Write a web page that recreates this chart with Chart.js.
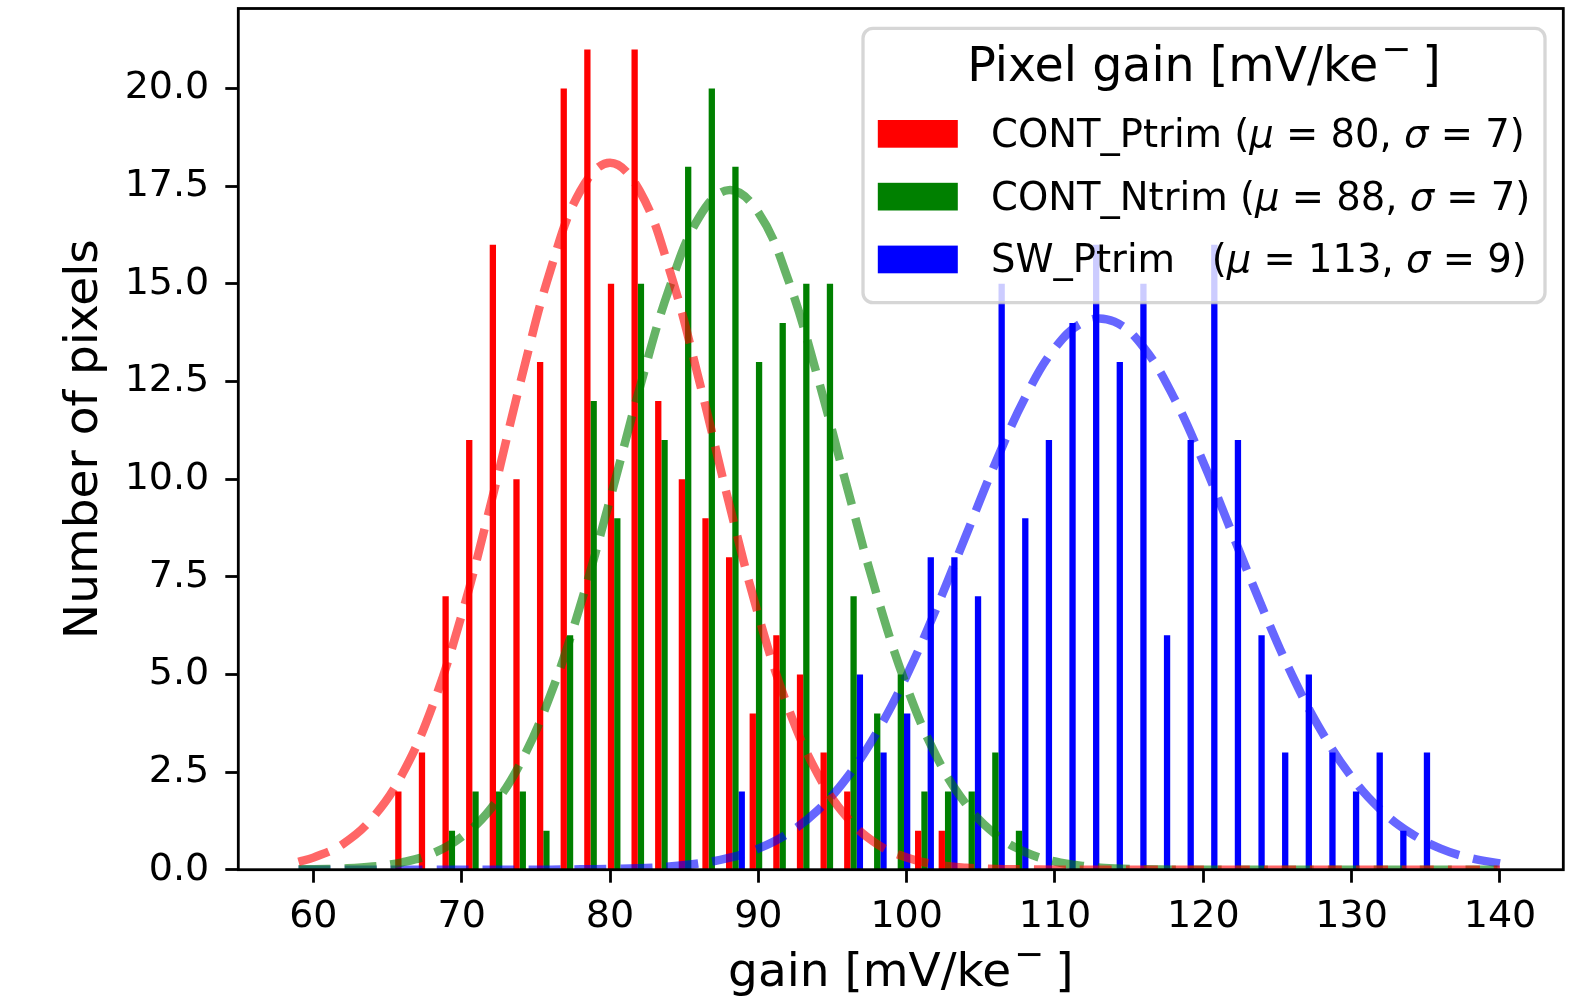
<!DOCTYPE html>
<html>
<head>
<meta charset="utf-8">
<title>Pixel gain distribution</title>
<script src="https://cdn.jsdelivr.net/npm/chart.js@4.4.0/dist/chart.umd.min.js"></script>
<style>
  html, body { margin: 0; padding: 0; background: #fff; }
  #wrap { width: 1588px; height: 1002px; }
</style>
</head>
<body>
<div id="wrap"><canvas id="gainHist" width="1588" height="1002"></canvas></div>
<script>
// histogram bins (bin centres, mV/ke-)
const binCenters = [
  66.155, 67.748, 69.341, 70.934, 72.527, 74.120, 75.713, 77.306, 78.899, 80.492,
  82.085, 83.678, 85.271, 86.864, 88.457, 90.050, 91.643, 93.236, 94.829, 96.422,
  98.015, 99.608, 101.201, 102.794, 104.387, 105.980, 107.573, 109.166, 110.759, 112.352,
  113.945, 115.538, 117.131, 118.724, 120.317, 121.910, 123.503, 125.096, 126.689, 128.282,
  129.875, 131.468, 133.061, 134.654
];

// pixel counts per bin
const contPtrimCounts = [
  2, 3, 7, 11, 16, 10, 13, 20, 21, 15, 21, 12, 10, 9, 8, 4, 6, 5, 3, 2,
  0, 0, 1, 1, 0, 0, 0, 0, 0, 0, 0, 0, 0, 0, 0, 0, 0, 0, 0, 0, 0, 0, 0, 0
];
const contNtrimCounts = [
  0, 0, 1, 2, 2, 2, 1, 6, 12, 9, 15, 11, 18, 20, 18, 13, 14, 15, 15, 7,
  4, 5, 2, 2, 2, 3, 1, 0, 0, 0, 0, 0, 0, 0, 0, 0, 0, 0, 0, 0, 0, 0, 0, 0
];
const swPtrimCounts = [
  0, 0, 0, 0, 0, 0, 0, 0, 0, 0, 0, 0, 0, 0, 2, 0, 0, 0, 0, 5,
  3, 4, 8, 8, 7, 15, 9, 11, 14, 16, 13, 15, 6, 11, 16, 11, 6, 3, 5, 3,
  2, 3, 1, 3
];

// gaussian fit curves, sampled along the gain axis
const fitGain = [
  59, 60, 62, 64, 66, 68, 70, 72, 74, 76, 78, 80, 82, 84, 86, 88, 90, 92, 94, 96, 98,
  100, 102, 104, 106, 108, 110, 112, 114, 116, 118, 120, 122, 124, 126, 128, 130, 132, 134, 136, 138, 140
];
const contPtrimFit = [
  0.20, 0.31, 0.66, 1.33, 2.45, 4.16, 6.52, 9.42, 12.54, 15.37, 17.38, 18.10, 17.38, 15.37, 12.54, 9.42, 6.52, 4.16, 2.45, 1.33, 0.66,
  0.31, 0.13, 0.05, 0.02, 0.01, 0, 0, 0, 0, 0, 0, 0, 0, 0, 0, 0, 0, 0, 0, 0, 0
];
const contNtrimFit = [
  0.01, 0.01, 0.03, 0.08, 0.19, 0.41, 0.84, 1.58, 2.76, 4.49, 6.77, 9.48, 12.33, 14.89, 16.70, 17.40, 16.83, 15.12, 12.61, 9.77, 7.02,
  4.69, 2.91, 1.68, 0.90, 0.45, 0.21, 0.09, 0.03, 0.01, 0, 0, 0, 0, 0, 0, 0, 0, 0, 0, 0, 0
];
const swPtrimFit = [
  0, 0, 0, 0, 0, 0, 0, 0, 0, 0, 0.01, 0.02, 0.04, 0.08, 0.16, 0.30, 0.54, 0.93, 1.52, 2.37, 3.52,
  4.97, 6.69, 8.56, 10.43, 12.10, 13.36, 14.03, 14.03, 13.36, 12.10, 10.43, 8.56, 6.69, 4.97, 3.52, 2.37, 1.52, 0.93, 0.54, 0.30, 0.16
];

// axis ticks
const xTicks = [60, 70, 80, 90, 100, 110, 120, 130, 140];
const yTicks = [0, 2.5, 5, 7.5, 10, 12.5, 15, 17.5, 20];

// legend entries
const seriesNames = ['CONT_Ptrim', 'CONT_Ntrim', 'SW_Ptrim  '];
const fitMu = [80, 88, 113];
const fitSigma = [7, 7, 9];
const barColors = ['#ff0000', '#008000', '#0000ff'];
const fitColors = ['rgba(255,0,0,0.6)', 'rgba(0,128,0,0.6)', 'rgba(0,0,255,0.6)'];

const FONT = '"DejaVu Sans", sans-serif';

function barSet(i, counts) {
  return {
    type: 'bar',
    label: seriesNames[i],
    data: binCenters.map((x, k) => ({ x: x, y: counts[k] })),
    backgroundColor: barColors[i],
    borderWidth: 0,
    categoryPercentage: 0.8,
    barPercentage: 1.0,
    order: 2
  };
}

function fitSet(i, vals) {
  return {
    type: 'line',
    data: fitGain.map((x, k) => ({ x: x, y: vals[k] })),
    borderColor: fitColors[i],
    borderWidth: 8.5,
    borderDash: [32, 14],
    pointRadius: 0,
    tension: 0.4,
    fill: false,
    order: 1
  };
}

// text made of runs with their own size / slant / baseline shift
function drawRich(ctx, parts, x, y, align) {
  let total = 0;
  parts.forEach(p => {
    ctx.font = (p.italic ? 'italic ' : '') + p.size + 'px ' + FONT;
    total += (p.gap || 0) + ctx.measureText(p.text).width;
  });
  let cx = align === 'center' ? x - total / 2 : x;
  ctx.textAlign = 'left';
  parts.forEach(p => {
    ctx.font = (p.italic ? 'italic ' : '') + p.size + 'px ' + FONT;
    cx += p.gap || 0;
    ctx.fillText(p.text, cx, y + (p.dy || 0));
    cx += ctx.measureText(p.text).width;
  });
}

// "...[mV/ke" + raised minus + "]"
function unitParts(prefix, size) {
  return [
    { text: prefix, size: size },
    { text: '\u2212', size: 36, dy: -20, gap: 3 },
    { text: ']', size: size, gap: 11 }
  ];
}

function roundedBox(ctx, x, y, w, h, r) {
  ctx.beginPath();
  ctx.moveTo(x + r, y);
  ctx.arcTo(x + w, y, x + w, y + h, r);
  ctx.arcTo(x + w, y + h, x, y + h, r);
  ctx.arcTo(x, y + h, x, y, r);
  ctx.arcTo(x, y, x + w, y, r);
  ctx.closePath();
}

const frameAndLabels = {
  id: 'frameAndLabels',
  afterDatasetsDraw(chart) {
    const { ctx, chartArea: a } = chart;
    ctx.save();
    ctx.lineWidth = 2.8;
    ctx.strokeStyle = '#000';
    ctx.strokeRect(a.left, a.top, a.right - a.left, a.bottom - a.top);
    ctx.restore();
  },
  afterDraw(chart) {
    const { ctx, chartArea: a } = chart;
    ctx.save();
    ctx.fillStyle = '#000';
    ctx.textBaseline = 'alphabetic';

    // axis titles
    drawRich(ctx, unitParts('gain [mV/ke', 47), (a.left + a.right) / 2, 986, 'center');
    ctx.save();
    ctx.translate(96.7, (a.top + a.bottom) / 2);
    ctx.rotate(-Math.PI / 2);
    drawRich(ctx, [{ text: 'Number of pixels', size: 47 }], 0, 0, 'center');
    ctx.restore();

    // legend frame
    const box = { x: 863, y: 28.3, w: 682, h: 274.4, r: 10 };
    roundedBox(ctx, box.x, box.y, box.w, box.h, box.r);
    ctx.fillStyle = 'rgba(255,255,255,0.8)';
    ctx.fill();
    ctx.lineWidth = 3.3;
    ctx.strokeStyle = 'rgba(204,204,204,0.8)';
    ctx.stroke();

    ctx.fillStyle = '#000';
    drawRich(ctx, unitParts('Pixel gain [mV/ke', 47.5), box.x + box.w / 2, 81, 'center');

    seriesNames.forEach((name, i) => {
      const base = 146.7 + i * 62.8;
      ctx.fillStyle = barColors[i];
      ctx.fillRect(877.8, base - 26.7, 80, 27.7);
      ctx.fillStyle = '#000';
      drawRich(ctx, [
        { text: name + ' (', size: 38.5 },
        { text: '\u03bc', size: 38.5, italic: true },
        { text: ' = ' + fitMu[i] + ', ', size: 38.5 },
        { text: '\u03c3', size: 38.5, italic: true },
        { text: ' = ' + fitSigma[i] + ')', size: 38.5 }
      ], 991, base, 'left');
    });
    ctx.restore();
  }
};

const tickFont = { family: FONT, size: 38 };

new Chart(document.getElementById('gainHist'), {
  type: 'bar',
  data: {
    datasets: [
      barSet(0, contPtrimCounts),
      barSet(1, contNtrimCounts),
      barSet(2, swPtrimCounts),
      fitSet(0, contPtrimFit),
      fitSet(1, contNtrimFit),
      fitSet(2, swPtrimFit)
    ]
  },
  options: {
    responsive: false,
    devicePixelRatio: 1,
    animation: false,
    layout: { padding: { left: 0, right: 24.7, top: 8.5, bottom: 0 } },
    plugins: {
      legend: { display: false },
      tooltip: { enabled: false }
    },
    scales: {
      x: {
        type: 'linear',
        min: 54.94,
        max: 144.27,
        offset: false,
        afterBuildTicks: s => { s.ticks = xTicks.map(v => ({ value: v })); },
        afterFit: s => { s.height = 132.3; s.paddingLeft = 0; s.paddingRight = 0; },
        grid: { offset: false, drawOnChartArea: false, drawTicks: true, tickLength: 13, tickWidth: 2.8, tickColor: '#000' },
        border: { display: false },
        ticks: { font: tickFont, color: '#000', padding: 12, maxRotation: 0, autoSkip: false, callback: v => String(v) }
      },
      y: {
        type: 'linear',
        min: 0,
        max: 22.05,
        afterBuildTicks: s => { s.ticks = yTicks.map(v => ({ value: v })); },
        afterFit: s => { s.width = 238.3; s.paddingTop = 0; s.paddingBottom = 0; },
        grid: { drawOnChartArea: false, drawTicks: true, tickLength: 13, tickWidth: 2.8, tickColor: '#000' },
        border: { display: false },
        ticks: { font: tickFont, color: '#000', padding: 16, autoSkip: false, callback: v => v.toFixed(1) }
      }
    }
  },
  plugins: [frameAndLabels]
});
</script>
</body>
</html>
